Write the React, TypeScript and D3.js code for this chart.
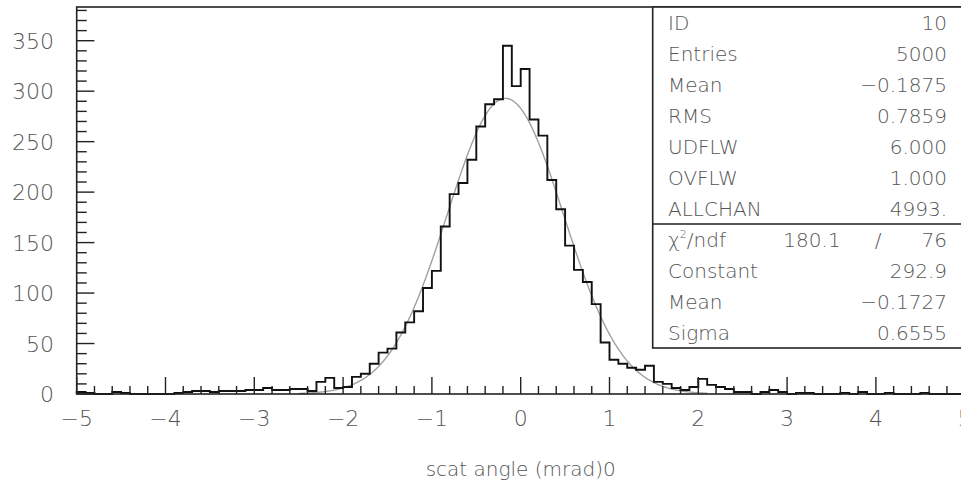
import React from "react";
import * as d3 from "d3";

// ---- data ----
const binStart = -5;
const binWidth = 0.1;
const counts: number[] = [
  2, 1, 0, 0, 2, 1, 0, 0, 0, 0,
  0, 1, 2, 3, 3, 2, 3, 3, 3, 4,
  4, 6, 4, 4, 5, 5, 3, 12, 16, 6,
  7, 17, 20, 30, 41, 45, 61, 71, 82, 105,
  122, 166, 198, 209, 232, 265, 287, 292, 345, 305,
  322, 272, 256, 212, 183, 147, 123, 111, 89, 51,
  34, 30, 26, 24, 28, 12, 10, 6, 4, 7,
  15, 9, 7, 5, 2, 2, 0, 2, 4, 2,
  0, 1, 1, 0, 0, 0, 1, 0, 2, 0,
  0, 1, 0, 0, 0, 1, 0, 0, 0, 0,
];
const fitConstant = 292.9;
const fitMean = -0.1727;
const fitSigma = 0.6555;
const fitRange: [number, number] = [-2.5, 2.1];

const xTickLabels = [-5, -4, -3, -2, -1, 0, 1, 2, 3, 4, 5];
const yTickLabels = [0, 50, 100, 150, 200, 250, 300, 350];

const statsTop: [string, string][] = [
  ["ID", "10"],
  ["Entries", "5000"],
  ["Mean", "\u22120.1875"],
  ["RMS", "0.7859"],
  ["UDFLW", "6.000"],
  ["OVFLW", "1.000"],
  ["ALLCHAN", "4993."],
];
const statsFit: [string, string][] = [
  ["Constant", "292.9"],
  ["Mean", "\u22120.1727"],
  ["Sigma", "0.6555"],
];
const chi2 = "180.1";
const ndf = "76";
const xTitle = "scat angle (mrad)0";

const fmt = (v: number) => (v < 0 ? "\u2212" + Math.abs(v) : String(v));

export default function App() {
  const W = 961, H = 480;
  const x = d3.scaleLinear().domain([-5, 5]).range([76.7, 964.7]);
  const y = d3.scaleLinear().domain([0, 383.4]).range([394, 7]);

  // histogram step outline
  const pts: [number, number][] = [[binStart, 0]];
  counts.forEach((c, i) => {
    const x0 = binStart + i * binWidth;
    pts.push([x0, c]);
    pts.push([x0 + binWidth, c]);
  });
  pts.push([binStart + counts.length * binWidth, 0]);
  const histPath = d3.line<[number, number]>().x((d) => x(d[0])).y((d) => y(d[1]))(pts) || "";

  const fitPts = d3.range(fitRange[0], fitRange[1] + 1e-9, 0.01).map((v) => [
    v,
    fitConstant * Math.exp(-0.5 * ((v - fitMean) / fitSigma) ** 2),
  ]) as [number, number][];
  const fitPath = d3.line<[number, number]>().x((d) => x(d[0])).y((d) => y(d[1]))(fitPts) || "";

  const xMinor = d3.range(-5, 5.0001, 0.2).map((v) => Math.round(v * 10) / 10);
  const yMinor = d3.range(0, 381, 10);

  const font = "'DejaVu Sans', sans-serif";
  const textCol = "#555";
  const fw = 300;

  const boxLeft = 652.7;
  const boxTop = 7;
  const rowH = 31;
  const sepY = boxTop + rowH * 7;
  const boxBottom = sepY + rowH * 4;
  const labelX = 668;
  const valueX = 947;
  const sfs = 20;

  return (
    <svg width={W} height={H} style={{ position: "absolute", left: 0, top: 0, background: "#fff" }}>
      <rect x={0} y={0} width={W} height={H} fill="#fff" />
      {/* fit curve */}
      <path d={fitPath} fill="none" stroke="#a0a0a0" strokeWidth={1.4} />
      {/* histogram */}
      <path d={histPath} fill="none" stroke="#111" strokeWidth={1.9} />
      {/* frame */}
      <rect x={x(-5)} y={y(383.4)} width={x(5) - x(-5)} height={y(0) - y(383.4)} fill="none" stroke="#222" strokeWidth={1.6} />
      {/* x ticks */}
      {xMinor.map((v) => {
        const major = Math.abs(v - Math.round(v)) < 1e-6;
        return (
          <line key={"xt" + v} x1={x(v)} x2={x(v)} y1={y(0)} y2={y(0) - (major ? 17 : 8)} stroke="#222" strokeWidth={1.4} />
        );
      })}
      {/* y ticks */}
      {yMinor.map((v) => {
        const major = v % 50 === 0;
        return (
          <line key={"yt" + v} x1={x(-5)} x2={x(-5) + (major ? 17.7 : 10)} y1={y(v)} y2={y(v)} stroke="#222" strokeWidth={1.4} />
        );
      })}
      {/* tick labels */}
      {xTickLabels.map((v) => (
        <text key={"xl" + v} x={x(v)} y={426} textAnchor="middle" fontFamily={font} fontWeight={fw} fontSize={22} fill={textCol}>
          {fmt(v)}
        </text>
      ))}
      {yTickLabels.map((v) => (
        <text key={"yl" + v} x={54} y={y(v) + 8} textAnchor="end" fontFamily={font} fontWeight={fw} fontSize={22} fill={textCol}>
          {v}
        </text>
      ))}
      <text x={x(0)} y={476} textAnchor="middle" fontFamily={font} fontWeight={fw} fontSize={20} fill={textCol}>
        {xTitle}
      </text>
      {/* stats box */}
      <rect x={boxLeft} y={boxTop} width={W + 10 - boxLeft} height={boxBottom - boxTop} fill="#fff" stroke="#222" strokeWidth={1.6} />
      <line x1={boxLeft} x2={W + 10} y1={sepY} y2={sepY} stroke="#222" strokeWidth={1.6} />
      {statsTop.map(([k, v], i) => (
        <g key={"s" + i}>
          <text x={labelX} y={boxTop + rowH * i + rowH / 2 + 7} fontFamily={font} fontWeight={fw} fontSize={sfs} fill={textCol}>{k}</text>
          <text x={valueX} y={boxTop + rowH * i + rowH / 2 + 7} textAnchor="end" fontFamily={font} fontWeight={fw} fontSize={sfs} fill={textCol}>{v}</text>
        </g>
      ))}
      <g>
        <text x={labelX} y={sepY + rowH / 2 + 7} fontFamily={font} fontWeight={fw} fontSize={sfs} fill={textCol}>
          {"\u03C7"}
          <tspan fontSize={11} dy={-9}>2</tspan>
          <tspan dy={9}>/ndf</tspan>
        </text>
        <text x={812} y={sepY + rowH / 2 + 7} textAnchor="middle" fontFamily={font} fontWeight={fw} fontSize={sfs} fill={textCol}>{chi2}</text>
        <text x={878} y={sepY + rowH / 2 + 7} textAnchor="middle" fontFamily={font} fontWeight={fw} fontSize={sfs} fill={textCol}>/</text>
        <text x={valueX} y={sepY + rowH / 2 + 7} textAnchor="end" fontFamily={font} fontWeight={fw} fontSize={sfs} fill={textCol}>{ndf}</text>
      </g>
      {statsFit.map(([k, v], i) => (
        <g key={"f" + i}>
          <text x={labelX} y={sepY + rowH * (i + 1) + rowH / 2 + 7} fontFamily={font} fontWeight={fw} fontSize={sfs} fill={textCol}>{k}</text>
          <text x={valueX} y={sepY + rowH * (i + 1) + rowH / 2 + 7} textAnchor="end" fontFamily={font} fontWeight={fw} fontSize={sfs} fill={textCol}>{v}</text>
        </g>
      ))}
    </svg>
  );
}
